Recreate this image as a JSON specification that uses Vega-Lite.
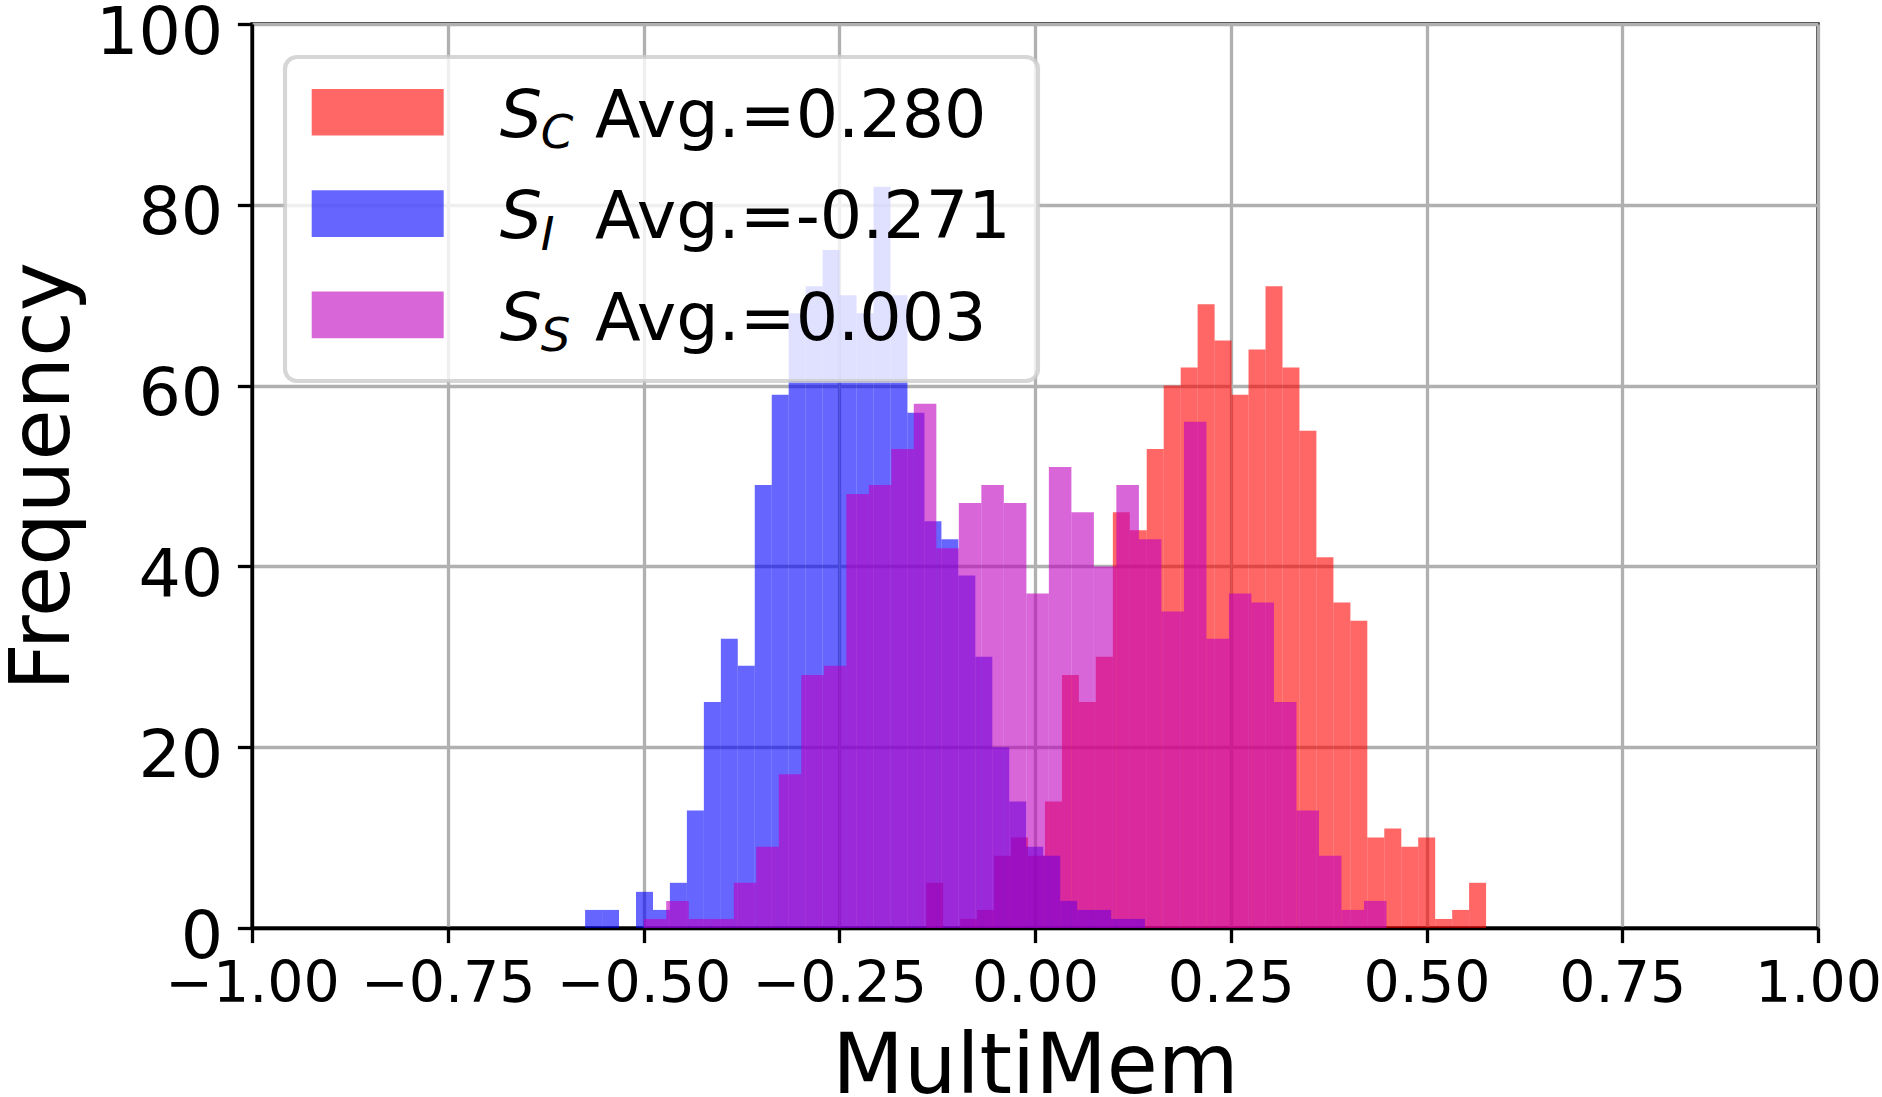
{
  "$schema": "https://vega.github.io/schema/vega-lite/v6.json",
  "width": 1566,
  "height": 904,
  "autosize": {"type": "none"},
  "padding": {"left": 252, "top": 24, "right": 64, "bottom": 169},
  "background": "white",
  "config": {
    "view": {"stroke": "black", "strokeWidth": 3.3},
    "font": "DejaVu Sans",
    "axis": {
      "labelFont": "DejaVu Sans",
      "labelColor": "black",
      "tickColor": "black",
      "tickWidth": 3.3,
      "tickSize": 14.6,
      "grid": true,
      "gridColor": "#b0b0b0",
      "gridWidth": 3.3,
      "domain": true,
      "domainColor": "black",
      "domainWidth": 3.3,
      "titleFont": "DejaVu Sans",
      "titleFontSize": 83,
      "titleFontWeight": "normal",
      "titleColor": "black",
      "labelFlush": false,
      "labelOverlap": false,
      "labelBound": false,
      "zindex": 1
    }
  },
  "datasets": {
    "bars": [
      {"s": "C", "x0": -0.1390, "x1": -0.1173, "n": 5},
      {"s": "C", "x0": -0.1173, "x1": -0.0956, "n": 0},
      {"s": "C", "x0": -0.0956, "x1": -0.0740, "n": 1},
      {"s": "C", "x0": -0.0740, "x1": -0.0523, "n": 2},
      {"s": "C", "x0": -0.0523, "x1": -0.0306, "n": 8},
      {"s": "C", "x0": -0.0306, "x1": -0.0090, "n": 10},
      {"s": "C", "x0": -0.0090, "x1": 0.0127, "n": 8},
      {"s": "C", "x0": 0.0127, "x1": 0.0344, "n": 14},
      {"s": "C", "x0": 0.0344, "x1": 0.0560, "n": 28},
      {"s": "C", "x0": 0.0560, "x1": 0.0777, "n": 25},
      {"s": "C", "x0": 0.0777, "x1": 0.0994, "n": 30},
      {"s": "C", "x0": 0.0994, "x1": 0.1210, "n": 46},
      {"s": "C", "x0": 0.1210, "x1": 0.1427, "n": 44},
      {"s": "C", "x0": 0.1427, "x1": 0.1644, "n": 53},
      {"s": "C", "x0": 0.1644, "x1": 0.1861, "n": 60},
      {"s": "C", "x0": 0.1861, "x1": 0.2077, "n": 62},
      {"s": "C", "x0": 0.2077, "x1": 0.2294, "n": 69},
      {"s": "C", "x0": 0.2294, "x1": 0.2511, "n": 65},
      {"s": "C", "x0": 0.2511, "x1": 0.2727, "n": 59},
      {"s": "C", "x0": 0.2727, "x1": 0.2944, "n": 64},
      {"s": "C", "x0": 0.2944, "x1": 0.3161, "n": 71},
      {"s": "C", "x0": 0.3161, "x1": 0.3377, "n": 62},
      {"s": "C", "x0": 0.3377, "x1": 0.3594, "n": 55},
      {"s": "C", "x0": 0.3594, "x1": 0.3811, "n": 41},
      {"s": "C", "x0": 0.3811, "x1": 0.4028, "n": 36},
      {"s": "C", "x0": 0.4028, "x1": 0.4244, "n": 34},
      {"s": "C", "x0": 0.4244, "x1": 0.4461, "n": 10},
      {"s": "C", "x0": 0.4461, "x1": 0.4678, "n": 11},
      {"s": "C", "x0": 0.4678, "x1": 0.4894, "n": 9},
      {"s": "C", "x0": 0.4894, "x1": 0.5111, "n": 10},
      {"s": "C", "x0": 0.5111, "x1": 0.5328, "n": 1},
      {"s": "C", "x0": 0.5328, "x1": 0.5544, "n": 2},
      {"s": "C", "x0": 0.5544, "x1": 0.5761, "n": 5},
      {"s": "I", "x0": -0.5746, "x1": -0.5529, "n": 2},
      {"s": "I", "x0": -0.5529, "x1": -0.5313, "n": 2},
      {"s": "I", "x0": -0.5313, "x1": -0.5096, "n": 0},
      {"s": "I", "x0": -0.5096, "x1": -0.4879, "n": 4},
      {"s": "I", "x0": -0.4879, "x1": -0.4663, "n": 2},
      {"s": "I", "x0": -0.4663, "x1": -0.4446, "n": 5},
      {"s": "I", "x0": -0.4446, "x1": -0.4229, "n": 13},
      {"s": "I", "x0": -0.4229, "x1": -0.4012, "n": 25},
      {"s": "I", "x0": -0.4012, "x1": -0.3796, "n": 32},
      {"s": "I", "x0": -0.3796, "x1": -0.3579, "n": 29},
      {"s": "I", "x0": -0.3579, "x1": -0.3362, "n": 49},
      {"s": "I", "x0": -0.3362, "x1": -0.3146, "n": 59},
      {"s": "I", "x0": -0.3146, "x1": -0.2929, "n": 68},
      {"s": "I", "x0": -0.2929, "x1": -0.2712, "n": 71},
      {"s": "I", "x0": -0.2712, "x1": -0.2496, "n": 75},
      {"s": "I", "x0": -0.2496, "x1": -0.2279, "n": 70},
      {"s": "I", "x0": -0.2279, "x1": -0.2062, "n": 68},
      {"s": "I", "x0": -0.2062, "x1": -0.1845, "n": 82},
      {"s": "I", "x0": -0.1845, "x1": -0.1629, "n": 70},
      {"s": "I", "x0": -0.1629, "x1": -0.1412, "n": 57},
      {"s": "I", "x0": -0.1412, "x1": -0.1195, "n": 45},
      {"s": "I", "x0": -0.1195, "x1": -0.0979, "n": 43},
      {"s": "I", "x0": -0.0979, "x1": -0.0762, "n": 39},
      {"s": "I", "x0": -0.0762, "x1": -0.0545, "n": 30},
      {"s": "I", "x0": -0.0545, "x1": -0.0329, "n": 20},
      {"s": "I", "x0": -0.0329, "x1": -0.0112, "n": 14},
      {"s": "I", "x0": -0.0112, "x1": 0.0105, "n": 9},
      {"s": "I", "x0": 0.0105, "x1": 0.0322, "n": 8},
      {"s": "I", "x0": 0.0322, "x1": 0.0538, "n": 3},
      {"s": "I", "x0": 0.0538, "x1": 0.0755, "n": 2},
      {"s": "I", "x0": 0.0755, "x1": 0.0972, "n": 2},
      {"s": "I", "x0": 0.0972, "x1": 0.1188, "n": 1},
      {"s": "I", "x0": 0.1188, "x1": 0.1405, "n": 1},
      {"s": "S", "x0": -0.4997, "x1": -0.4710, "n": 1},
      {"s": "S", "x0": -0.4710, "x1": -0.4422, "n": 3},
      {"s": "S", "x0": -0.4422, "x1": -0.4135, "n": 1},
      {"s": "S", "x0": -0.4135, "x1": -0.3847, "n": 1},
      {"s": "S", "x0": -0.3847, "x1": -0.3560, "n": 5},
      {"s": "S", "x0": -0.3560, "x1": -0.3272, "n": 9},
      {"s": "S", "x0": -0.3272, "x1": -0.2985, "n": 17},
      {"s": "S", "x0": -0.2985, "x1": -0.2697, "n": 28},
      {"s": "S", "x0": -0.2697, "x1": -0.2410, "n": 29},
      {"s": "S", "x0": -0.2410, "x1": -0.2122, "n": 48},
      {"s": "S", "x0": -0.2122, "x1": -0.1835, "n": 49},
      {"s": "S", "x0": -0.1835, "x1": -0.1548, "n": 53},
      {"s": "S", "x0": -0.1548, "x1": -0.1260, "n": 58},
      {"s": "S", "x0": -0.1260, "x1": -0.0973, "n": 42},
      {"s": "S", "x0": -0.0973, "x1": -0.0685, "n": 47},
      {"s": "S", "x0": -0.0685, "x1": -0.0398, "n": 49},
      {"s": "S", "x0": -0.0398, "x1": -0.0110, "n": 47},
      {"s": "S", "x0": -0.0110, "x1": 0.0177, "n": 37},
      {"s": "S", "x0": 0.0177, "x1": 0.0465, "n": 51},
      {"s": "S", "x0": 0.0465, "x1": 0.0752, "n": 46},
      {"s": "S", "x0": 0.0752, "x1": 0.1039, "n": 40},
      {"s": "S", "x0": 0.1039, "x1": 0.1327, "n": 49},
      {"s": "S", "x0": 0.1327, "x1": 0.1614, "n": 43},
      {"s": "S", "x0": 0.1614, "x1": 0.1902, "n": 35},
      {"s": "S", "x0": 0.1902, "x1": 0.2189, "n": 56},
      {"s": "S", "x0": 0.2189, "x1": 0.2477, "n": 32},
      {"s": "S", "x0": 0.2477, "x1": 0.2764, "n": 37},
      {"s": "S", "x0": 0.2764, "x1": 0.3052, "n": 36},
      {"s": "S", "x0": 0.3052, "x1": 0.3339, "n": 25},
      {"s": "S", "x0": 0.3339, "x1": 0.3627, "n": 13},
      {"s": "S", "x0": 0.3627, "x1": 0.3914, "n": 8},
      {"s": "S", "x0": 0.3914, "x1": 0.4202, "n": 2},
      {"s": "S", "x0": 0.4202, "x1": 0.4489, "n": 3}
    ],
    "series": [
      {"s": "C", "avg": "0.280"},
      {"s": "I", "avg": "-0.271"},
      {"s": "S", "avg": "0.003"}
    ]
  },
  "layer": [
    {
      "data": {"name": "bars"},
      "mark": {"type": "bar", "opacity": 0.6},
      "encoding": {
        "x": {
          "field": "x0",
          "type": "quantitative",
          "scale": {"domain": [-1, 1], "nice": false, "zero": false},
          "title": "MultiMem",
          "axis": {
            "values": [-1, -0.75, -0.5, -0.25, 0, 0.25, 0.5, 0.75, 1],
            "format": ".2f",
            "labelFontSize": 57,
            "labelPadding": 14,
            "titlePadding": 14
          }
        },
        "x2": {"field": "x1"},
        "y": {
          "field": "n",
          "type": "quantitative",
          "stack": null,
          "scale": {"domain": [0, 100], "nice": false},
          "title": "Frequency",
          "axis": {
            "values": [0, 20, 40, 60, 80, 100],
            "labelFontSize": 66.7,
            "labelPadding": 14.6,
            "labelOffset": 9,
            "titlePadding": 10
          }
        },
        "y2": {"datum": 0},
        "color": {
          "field": "s",
          "type": "nominal",
          "scale": {"range": ["#FF0000", "#0000FF", "#BF00BF"]},
          "legend": {
            "orient": "none",
            "legendX": 33,
            "legendY": 33,
            "title": null,
            "padding": 26.7,
            "rowPadding": 33.3,
            "fillColor": "rgba(255,255,255,0.8)",
            "strokeColor": "rgba(204,204,204,0.8)",
            "cornerRadius": 12,
            "symbolType": "M-2.0625,-0.88H2.0625V0.58H-2.0625Z",
            "symbolSize": 4096,
            "symbolStrokeWidth": 0,
            "symbolOpacity": 0.6,
            "symbolOffset": 32.65,
            "labelFont": "DejaVu Sans",
            "labelFontSize": 66.7,
            "labelFontStyle": "normal",
            "labelColor": "black",
            "labelOffset": 184,
            "labelLimit": 2000,
            "labelExpr": "datum.value == 'C' ? 'Avg.=0.280' : datum.value == 'I' ? 'Avg.=-0.271' : 'Avg.=0.003'",
            "zindex": 2,
            "encode": {"legend": {"update": {"strokeWidth": {"value": 4.2}}}}
          }
        }
      }
    },
    {
      "data": {"name": "series"},
      "mark": {"type": "point", "opacity": 0},
      "encoding": {
        "shape": {
          "field": "s",
          "type": "nominal",
          "legend": {
            "orient": "none",
            "legendX": 181,
            "legendY": 59.7,
            "title": null,
            "padding": 0,
            "rowPadding": 33.3,
            "symbolSize": 0,
            "symbolOpacity": 0,
            "symbolStrokeWidth": 0,
            "labelFont": "DejaVu Sans",
            "labelFontStyle": "italic",
            "labelFontSize": 66.7,
            "labelColor": "black",
            "labelOffset": 0,
            "labelExpr": "'S'",
            "zindex": 3
          }
        }
      }
    },
    {
      "data": {"name": "series"},
      "mark": {"type": "point", "opacity": 0, "filled": true},
      "encoding": {
        "fill": {
          "field": "s",
          "type": "nominal",
          "scale": {"domain": ["C", "I", "S"], "range": ["white", "white", "white"]},
          "legend": {
            "orient": "none",
            "legendX": 242,
            "legendY": 86.9,
            "title": null,
            "padding": 0,
            "rowPadding": 53.3,
            "symbolSize": 0,
            "symbolOpacity": 0,
            "symbolStrokeWidth": 0,
            "labelFont": "DejaVu Sans",
            "labelFontStyle": "italic",
            "labelFontSize": 46.7,
            "labelColor": "black",
            "labelOffset": 0,
            "zindex": 3
          }
        }
      }
    }
  ]
}
